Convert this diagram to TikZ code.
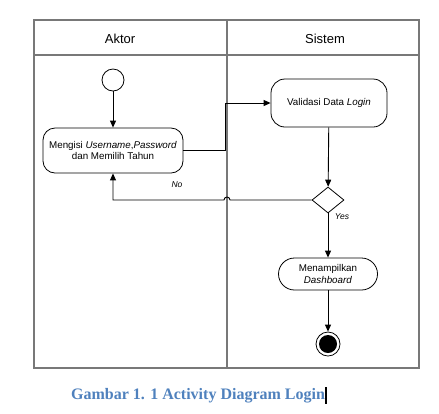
\documentclass[tikz,border=0pt]{standalone}
\usepackage{fontspec}
\setmainfont{Liberation Sans}
\newfontfamily\capfont{Liberation Serif}
\usetikzlibrary{arrows.meta,shapes.geometric}

\definecolor{lanegray}{RGB}{120,120,120}
\definecolor{capblue}{RGB}{79,129,189}

\begin{document}
\begin{tikzpicture}[x=1bp,y=-1bp,
	lane/.style={draw=lanegray,line width=1.8bp},
	act/.style={draw,thick,rounded corners=12bp,align=center,font=\fontsize{9.8bp}{11.5bp}\selectfont},
	flow/.style={-{Triangle[length=7bp,width=6bp]},line width=0.9bp},
	head/.style={font=\fontsize{13bp}{15bp}\selectfont},
	lbl/.style={font=\fontsize{8.5bp}{10bp}\selectfont\itshape}]
\useasboundingbox (0,0) rectangle (439,413);

% lanes
\draw[lane] (34,20) rectangle (419,368);
\draw[lane] (34,55) -- (419,55);
\draw[lane] (227,20) -- (227,368);
\node[head] (aktor) at (120,39) {Aktor};
\node[head] (sistem) at (325,39) {Sistem};

% aktor
\node[draw,circle,thick,minimum size=22bp,inner sep=0pt] (start) at (113,80) {};
\node[act,minimum width=140bp,minimum height=45bp,inner sep=1bp] (isi) at (113,150.5)
	{Mengisi \textit{Username},\textit{Password}\\dan Memilih Tahun};

% sistem
\node[act,minimum width=116bp,minimum height=48bp,rounded corners=14bp] (validasi) at (329,103)
	{Validasi Data \textit{Login}};
\node[draw,diamond,thick,minimum width=32bp,minimum height=26bp,inner sep=0pt] (cek) at (328,200) {};
\node[act,minimum width=99bp,minimum height=32bp,rounded corners=16bp,inner sep=1bp] (tampil) at (328,274)
	{Menampilkan\\\textit{Dashboard}};
\node[draw,circle,thick,minimum size=24bp,inner sep=0pt] (stop) at (328,344) {};
\node[fill,circle,minimum size=18bp,inner sep=0pt] (stopdot) at (stop) {};

\coordinate (kink) at (225,0);
\coordinate (hop) at (230,200);

\draw[flow] (start) -- (isi);
\draw[flow] (isi.east) -- (isi.east -| kink) |- (validasi.west);
\draw[flow] (validasi) -- (cek);
\draw[flow] (cek.west) -- (hop) arc (0:-180:3) -- (isi.south |- cek.west) -- (isi.south);
\draw[flow] (cek) -- (tampil);
\draw[flow] (tampil) -- (stop);

\node[lbl] (no) at (177,185) {No};
\node[lbl] (yes) at (342,217) {Yes};

% caption
\node[anchor=west,text=capblue,font=\capfont\bfseries\fontsize{16bp}{18bp}\selectfont,inner sep=0pt] (cap) at (71,396)
	{Gambar 1. 1 Activity Diagram Login};
\draw[line width=1.8bp] (cap.east) ++(1,-9) -- ++(0,17);
\end{tikzpicture}
\end{document}
